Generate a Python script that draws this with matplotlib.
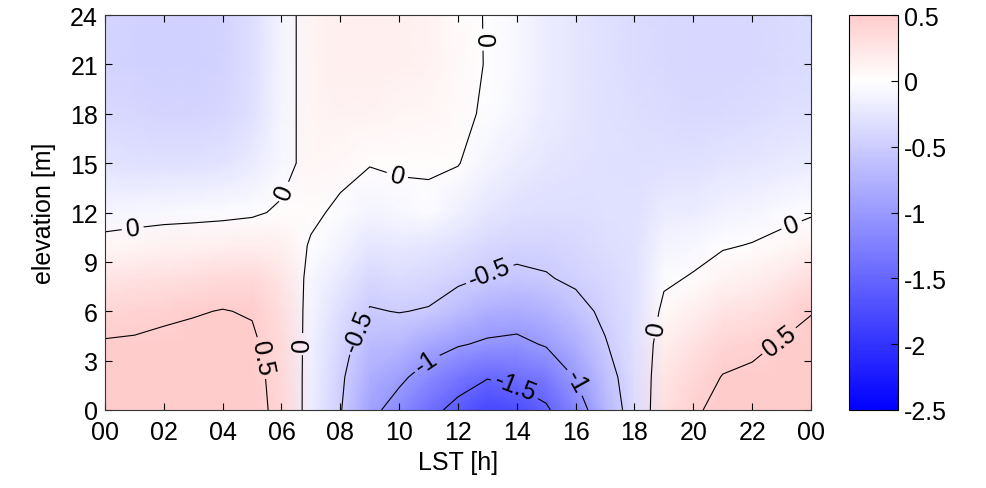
import numpy as np
import matplotlib
matplotlib.use("Agg")
import matplotlib.pyplot as plt
from matplotlib.colors import LinearSegmentedColormap

plt.rcParams['font.family'] = ['Liberation Sans', 'DejaVu Sans']
plt.rcParams['axes.unicode_minus'] = False

# ---- data ----
hours = list(range(0, 25))
heights = [0, 2, 4, 6, 8, 10, 12, 15, 18, 21, 24]
values = [
    [.60, .60, .60, .62, .62, .62, .40, -.17, -.48, -.90, -1.15, -1.40, -1.60, -1.80, -1.75, -1.55, -1.20, -.72, -.35, .30, .45, .60, .62, .64, .66],
    [.58, .58, .60, .62, .62, .60, .38, -.16, -.45, -.78, -.93, -1.15, -1.35, -1.48, -1.40, -1.30, -.98, -.63, -.33, .25, .38, .51, .55, .60, .63],
    [.52, .53, .56, .58, .60, .55, .35, -.14, -.40, -.65, -.70, -.85, -.97, -1.05, -1.08, -.97, -.78, -.52, -.30, .17, .28, .40, .44, .52, .57],
    [.40, .42, .45, .48, .51, .48, .32, -.12, -.33, -.52, -.49, -.52, -.65, -.78, -.82, -.75, -.60, -.44, -.30, .06, .15, .26, .30, .38, .49],
    [.25, .28, .30, .32, .35, .36, .25, -.08, -.22, -.38, -.35, -.38, -.45, -.52, -.56, -.52, -.45, -.38, -.30, -.04, .02, .11, .15, .22, .32],
    [.07, .09, .12, .13, .15, .17, .14, -.02, -.12, -.25, -.22, -.24, -.30, -.38, -.42, -.42, -.38, -.33, -.30, -.12, -.08, -.02, .01, .06, .12],
    [-.10, -.08, -.07, -.06, -.05, -.03, .03, .04, -.04, -.12, -.08, -.04, -.15, -.25, -.30, -.33, -.33, -.30, -.30, -.20, -.18, -.13, -.10, -.06, -.02],
    [-.28, -.30, -.30, -.30, -.28, -.20, -.08, .08, .06, .01, .03, .02, .01, -.12, -.18, -.25, -.28, -.30, -.32, -.30, -.30, -.27, -.25, -.22, -.20],
    [-.38, -.40, -.42, -.42, -.40, -.30, -.10, .10, .12, .12, .10, .08, .05, -.03, -.10, -.20, -.25, -.30, -.33, -.35, -.37, -.36, -.35, -.32, -.30],
    [-.42, -.44, -.45, -.45, -.43, -.33, -.11, .11, .15, .16, .14, .12, .06, -.01, -.08, -.18, -.25, -.30, -.35, -.37, -.40, -.40, -.38, -.36, -.35],
    [-.42, -.44, -.45, -.45, -.43, -.33, -.11, .11, .15, .16, .14, .12, .05, -.01, -.08, -.18, -.25, -.30, -.35, -.37, -.40, -.40, -.38, -.36, -.35],
]
contour_levels = [-1.5, -1, -0.5, 0, 0.5]
xtick_pos = list(range(0, 25, 2))
xtick_labels = ['00', '02', '04', '06', '08', '10', '12', '14', '16', '18', '20', '22', '00']
ytick_pos = list(range(0, 25, 3))
cbar_ticks = [-2.5, -2, -1.5, -1, -0.5, 0, 0.5]
label_positions = [
    (0.95, 10.9), (6.3, 13.1), (9.8, 13.5), (12.85, 22.5), (6.9, 4.0),
    (18.75, 5.0), (23.35, 11.2), (5.15, 3.1), (22.95, 4.1),
    (8.5, 4.9), (13.1, 8.1), (11.15, 2.4), (16.0, 1.7), (13.95, 1.4),
]

vmin, vmax = -2.5, 0.5
cmap = LinearSegmentedColormap.from_list(
    'bwr_ml',
    [(0.0, (0, 0, 1)), ((0 - vmin) / (vmax - vmin), (1, 1, 1)), (1.0, (1, 0.8, 0.8))])

X, Y = np.meshgrid(np.array(hours, float), np.array(heights, float))
Z = np.array(values)

FS = 18
fig = plt.figure(figsize=(9.87, 4.89), dpi=100)
ax = fig.add_axes([105 / 987, 78 / 489, 706 / 987, 395 / 489])
cax = fig.add_axes([849 / 987, 78 / 489, 49 / 987, 395 / 489])

mesh = ax.pcolormesh(X, Y, Z, shading='gouraud', cmap=cmap, vmin=vmin, vmax=vmax)
cs = ax.contour(X, Y, Z, levels=contour_levels, colors='k', linewidths=0.8,
                linestyles='solid')
ax.clabel(cs, fmt='%g', fontsize=FS, inline=True, inline_spacing=4, manual=label_positions)

ax.set_xlim(0, 24)
ax.set_ylim(0, 24)
ax.set_xticks(xtick_pos)
ax.set_xticklabels(xtick_labels)
ax.set_yticks(ytick_pos)
ax.tick_params(direction='in', length=5, width=0.8, top=True, right=True, labelsize=FS)
ax.tick_params(axis='x', pad=7.5)
ax.tick_params(axis='y', pad=5)
ax.set_xlabel('LST [h]', fontsize=FS, labelpad=4)
ax.set_ylabel('elevation [m]', fontsize=FS, labelpad=10)
for s in ax.spines.values():
    s.set_linewidth(0.8)
    s.set_color('#333333')

cb = fig.colorbar(mesh, cax=cax, ticks=cbar_ticks)
cb.ax.set_yticklabels(['%g' % t for t in cbar_ticks])
cb.ax.tick_params(direction='in', length=5, width=0.8, labelsize=FS, pad=4)
cb.outline.set_linewidth(0.8)

fig.savefig('out.png', dpi=100)
